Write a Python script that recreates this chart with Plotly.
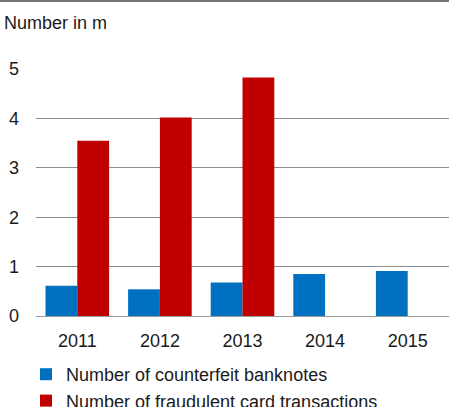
import plotly.graph_objects as go

years = ["2011", "2012", "2013", "2014", "2015"]
counterfeit = [0.61, 0.54, 0.68, 0.85, 0.91]
fraud_card = [3.55, 4.02, 4.83, None, None]
y_ticks = [0, 1, 2, 3, 4, 5]

W, H = 449, 407
ml, mr, mt, mb = 36, 0, 69, 91
pw, ph = W - ml - mr, H - mt - mb
FONT = "Arial, Liberation Sans, sans-serif"

fig = go.Figure()
fig.add_trace(go.Bar(x=years, y=counterfeit, name="Number of counterfeit banknotes",
                     marker=dict(color="#0070C0", line=dict(width=0))))
fig.add_trace(go.Bar(x=years, y=fraud_card, name="Number of fraudulent card transactions",
                     marker=dict(color="#C00000", line=dict(width=0))))

fig.update_layout(
    width=W, height=H,
    margin=dict(l=ml, r=mr, t=mt, b=mb, pad=0, autoexpand=False),
    paper_bgcolor="white", plot_bgcolor="white",
    font=dict(family=FONT, size=18, color="#1a1a1a"),
    barmode="group", bargap=0.23, bargroupgap=0,
    showlegend=True,
    legend=dict(orientation="v", xref="container", yref="container",
                x=26 / W, xanchor="left",
                y=1 - 356 / H, yanchor="top",
                font=dict(size=18), bgcolor="rgba(0,0,0,0)",
                tracegroupgap=0, itemwidth=30),
    xaxis=dict(showgrid=False, showline=True, linecolor="#999999", linewidth=1,
               ticks="", ticklabelstandoff=8, tickfont=dict(size=18), automargin=False),
    yaxis=dict(range=[0, 5], tickvals=y_ticks, showgrid=True, gridcolor="#8c8c8c",
               gridwidth=1, zeroline=False, showline=False, ticks="",
               ticklabelstandoff=16, tickfont=dict(size=18), automargin=False),
    shapes=[dict(type="line", xref="paper", yref="paper",
                 x0=-ml / pw, x1=1, y0=1 + (mt - 1) / ph, y1=1 + (mt - 1) / ph,
                 line=dict(color="#777777", width=2))],
    annotations=[dict(text="Number in m", xref="paper", yref="paper",
                      x=(2 - ml) / pw, xanchor="left",
                      y=1 + (mt - 23) / ph, yanchor="middle",
                      showarrow=False, font=dict(size=18))],
)

fig.write_html("out.html", config={"displayModeBar": False},
               post_script="document.body.style.margin='0';document.body.style.overflow='hidden';")
